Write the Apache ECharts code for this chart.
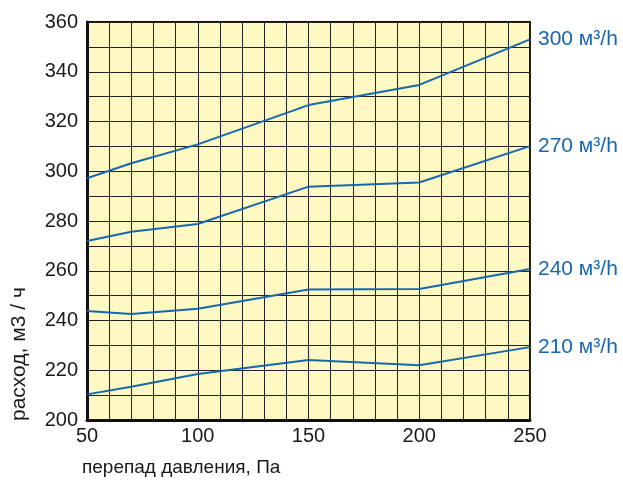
<!DOCTYPE html>
<html><head><meta charset="utf-8">
<script src="https://cdn.jsdelivr.net/npm/echarts@6/dist/echarts.min.js"></script>
<style>html,body{margin:0;padding:0;background:#fff}#c{width:623px;height:480px}</style>
</head><body><div id="c"></div>
<script>
const pressure = [50, 70, 100, 150, 200, 250];
const flow300 = [297.2, 303.2, 310.8, 326.6, 334.7, 353];
const flow270 = [272, 275.7, 278.8, 293.8, 295.5, 310.1];
const flow240 = [243.8, 242.6, 244.7, 252.5, 252.7, 260.7];
const flow210 = [210.3, 213.4, 218.5, 224.1, 222, 229.3];
const seriesNames = ['300 м³/h', '270 м³/h', '240 м³/h', '210 м³/h'];
const seriesData = [flow300, flow270, flow240, flow210];
const xName = 'перепад давления, Па';
const yName = 'расход, м3 / ч';

const blue = '#1767b0';
const ff = '"Liberation Sans", Arial, sans-serif';
const chart = echarts.init(document.getElementById('c'));
chart.setOption({
  animation: false,
  backgroundColor: '#fff',
  grid: { left: 87, right: 93, top: 22, bottom: 60, show: true, backgroundColor: '#fef8c3', borderColor: '#111', borderWidth: 2 },
  xAxis: {
    type: 'value', min: 50, max: 250, interval: 50,
    axisLine: { show: true, lineStyle: { color: '#111', width: 3 } },
    axisTick: { show: false },
    axisLabel: { color: '#1a1a1a', fontSize: 20, fontFamily: ff, margin: 6 },
    splitLine: { show: true, lineStyle: { color: '#222', width: 1 } },
    minorTick: { show: false, splitNumber: 5 },
    minorSplitLine: { show: true, lineStyle: { color: '#222', width: 1 } }
  },
  yAxis: {
    type: 'value', min: 200, max: 360, interval: 20,
    axisLine: { show: true, lineStyle: { color: '#111', width: 3 } },
    axisTick: { show: false },
    axisLabel: { color: '#1a1a1a', fontSize: 20, fontFamily: ff, margin: 9 },
    splitLine: { show: true, lineStyle: { color: '#222', width: 1 } },
    minorTick: { show: false, splitNumber: 2 },
    minorSplitLine: { show: true, lineStyle: { color: '#222', width: 1 } }
  },
  graphic: [
    { type: 'text', left: 82, top: 458, style: { text: xName, fill: '#1a1a1a', font: '19px ' + ff } },
    { type: 'text', x: 9, y: 421, rotation: Math.PI / 2, style: { text: yName, fill: '#1a1a1a', font: '21px ' + ff, textAlign: 'left', textVerticalAlign: 'top' } }
  ],
  series: seriesData.map((d, i) => ({
    name: seriesNames[i],
    type: 'line',
    data: pressure.map((p, j) => [p, d[j]]),
    symbol: 'none',
    lineStyle: { color: blue, width: 2 },
    endLabel: { show: true, formatter: '{a}', color: blue, fontSize: 21, fontFamily: ff, distance: 8 }
  }))
});
</script></body></html>
